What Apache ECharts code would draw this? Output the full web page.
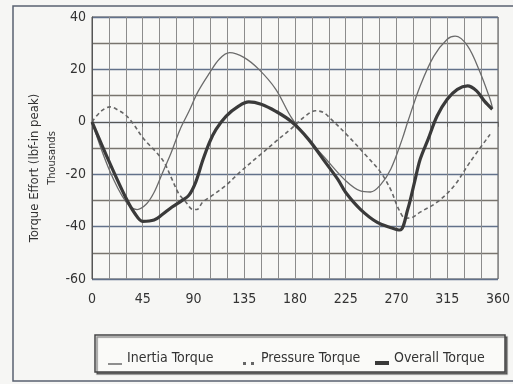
<!DOCTYPE html>
<html>
<head>
<meta charset="utf-8">
<script src="https://cdn.jsdelivr.net/npm/echarts@6/dist/echarts.min.js"></script>
<style>
  html, body { margin: 0; padding: 0; background: #f6f6f4; }
  #chart { width: 513px; height: 384px; }
</style>
</head>
<body>
<div id="chart"></div>
<script>
// crank angle (deg) and torque (thousands lbf-in)
const inertiaAngle = [0, 15, 30, 40, 48, 55, 62, 70, 78, 86, 94, 104, 113, 122, 135, 148, 163, 177, 192, 207, 225, 238, 247, 256, 265, 275, 280, 291, 303, 315, 322, 333, 344, 353, 355]
const inertiaValue = [0, -18, -30.5, -33.5, -31.5, -27, -20, -12, -3, 4, 11.5, 18.5, 24, 26.4, 24.5, 20, 12.4, 1.5, -6.7, -14, -22.5, -26.4, -26.8, -24, -18, -6.7, 0, 13.7, 25, 31.5, 32.7, 29, 19, 8.6, 5.5]

const pressureAngle = [0, 8, 16, 23, 30, 37, 44, 50, 57, 64, 71, 77, 83, 89, 93, 98, 106, 118, 133, 148, 163, 177, 190, 198, 205, 212, 227, 242, 256, 265, 272, 278, 284, 291, 306, 321, 335, 353]
const pressureValue = [0, 4, 5.7, 4.5, 2.5, -1, -5.5, -8.5, -11.6, -15.5, -22, -27.5, -30.5, -33.4, -33.5, -30.7, -28.3, -24.5, -18.5, -13, -7.5, -2.5, 2.5, 4.2, 3.6, 1, -5.4, -12.4, -19.3, -26, -33.4, -36.8, -36.5, -34.5, -30.7, -24.5, -15.5, -4.8]

const overallAngle = [0, 15, 30, 38, 45, 55, 62, 71, 80, 86, 92, 98, 104, 110, 119, 130, 139, 150, 163, 177, 192, 207, 218, 225, 238, 253, 266, 273, 280, 286, 291, 298, 306, 315, 324, 333, 341, 348, 355]
const overallValue = [0, -15, -29, -35, -38, -37.5, -35.5, -32.5, -30, -28, -23, -15, -8, -2.9, 2.2, 6, 7.6, 6.7, 4, 0, -6.7, -15.5, -22, -27, -33.4, -38.4, -40.5, -41.3, -33.4, -23, -14.3, -6.7, 2.2, 8.6, 12.4, 13.7, 11.8, 7.9, 4.8]

const seriesNames = ['Inertia Torque', 'Pressure Torque', 'Overall Torque']
const angleTicks = [0, 360, 45]
const torqueTicks = [-60, 40, 20]

const pairs = (xs, ys) => xs.map((x, i) => [x, ys[i]])

const narrow = "'Liberation Sans Narrow', 'Arial Narrow', 'DejaVu Sans Condensed', sans-serif"
const dot = 'M0,0h0.05v0.05h-0.05z M13.95,0h0.05v0.05h-0.05z '

const chart = echarts.init(document.getElementById('chart'))

const legendBase = (name, left, icon) => ({
  data: [name],
  left: left,
  top: 346,
  icon: icon,
  itemWidth: 14,
  itemHeight: 14,
  itemGap: 0,
  itemStyle: { borderWidth: 0 },
  textStyle: { fontFamily: narrow, fontSize: 14, color: '#333' },
  selectedMode: false
})

chart.setOption({
  backgroundColor: '#f6f6f4',
  animation: false,
  grid: {
    left: 92, top: 17, right: 12, bottom: 105,
    show: true, borderColor: '#555', borderWidth: 1, backgroundColor: '#f8f8f6'
  },
  xAxis: {
    type: 'value',
    min: angleTicks[0], max: angleTicks[1], interval: angleTicks[2],
    axisLine: { lineStyle: { color: '#555' } },
    axisTick: { show: true, length: 5, lineStyle: { color: '#666' } },
    minorTick: { show: true, splitNumber: 3, length: 5, lineStyle: { color: '#777' } },
    axisLabel: { margin: 13, fontFamily: narrow, fontSize: 14, color: '#333' },
    splitLine: { show: true, lineStyle: { color: '#8c8c8c', width: 1 } },
    minorSplitLine: { show: true, lineStyle: { color: '#8c8c8c', width: 1 } }
  },
  yAxis: {
    type: 'value',
    min: torqueTicks[0], max: torqueTicks[1], interval: torqueTicks[2],
    axisLine: { show: true, lineStyle: { color: '#555' } },
    axisTick: { show: false },
    minorTick: { show: false, splitNumber: 2 },
    axisLabel: { margin: 6, fontFamily: narrow, fontSize: 14, color: '#333' },
    splitLine: { show: true, lineStyle: { color: '#62718a', width: 1.3 } },
    minorSplitLine: { show: true, lineStyle: { color: '#78746e', width: 1.3 } }
  },
  legend: [
    legendBase(seriesNames[0], 103, 'path://' + dot + 'M0,12h14v1.5h-14z'),
    legendBase(seriesNames[1], 237, 'path://' + dot + 'M1,11h3v3h-3z M9,11h3v3h-3z'),
    legendBase(seriesNames[2], 370, 'path://' + dot + 'M0,10h14v4h-14z')
  ],
  graphic: [
    {
      type: 'rect', silent: true, z: -1,
      shape: { x: 13, y: 6, width: 520, height: 375 },
      style: { fill: 'none', stroke: '#5a6270', lineWidth: 1.5 }
    },
    {
      type: 'rect', silent: true, z: -1,
      shape: { x: 95, y: 335, width: 410, height: 37 },
      style: {
        fill: '#fafaf8', stroke: '#444', lineWidth: 1.5,
        shadowColor: 'rgba(0,0,0,0.45)', shadowOffsetX: 2, shadowOffsetY: 2, shadowBlur: 1
      }
    },
    {
      type: 'text', silent: true,
      x: 35, y: 168, rotation: Math.PI / 2,
      style: {
        text: 'Torque Effort (lbf-in peak)', fontFamily: narrow, fontSize: 13,
        fill: '#333', align: 'center', verticalAlign: 'middle'
      }
    },
    {
      type: 'text', silent: true,
      x: 52, y: 158, rotation: Math.PI / 2,
      style: {
        text: 'Thousands', fontFamily: narrow, fontSize: 11,
        fill: '#333', align: 'center', verticalAlign: 'middle'
      }
    }
  ],
  series: [
    {
      name: seriesNames[0], type: 'line', smooth: 0.35, symbol: 'none',
      color: '#6b6b6b',
      lineStyle: { color: '#6b6b6b', width: 1.3 },
      data: pairs(inertiaAngle, inertiaValue)
    },
    {
      name: seriesNames[1], type: 'line', smooth: 0.35, symbol: 'none',
      color: '#666',
      lineStyle: { color: '#666', width: 1.6, type: [4, 3] },
      data: pairs(pressureAngle, pressureValue)
    },
    {
      name: seriesNames[2], type: 'line', smooth: 0.35, symbol: 'none',
      color: '#3a3a3a',
      lineStyle: { color: '#3a3a3a', width: 3.2 },
      data: pairs(overallAngle, overallValue)
    }
  ]
})
</script>
</body>
</html>
